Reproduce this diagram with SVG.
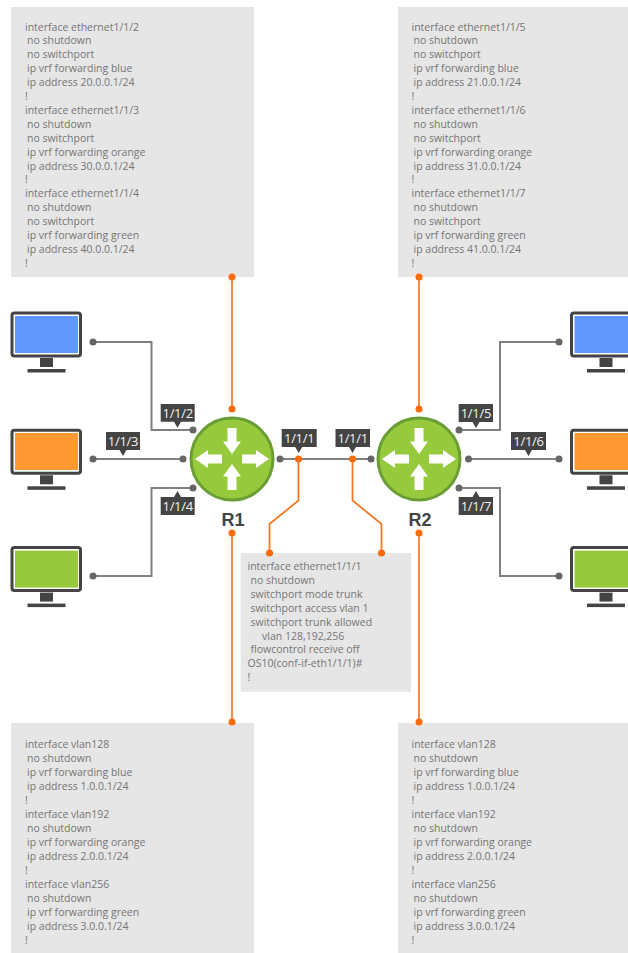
<svg xmlns="http://www.w3.org/2000/svg" xmlns:xlink="http://www.w3.org/1999/xlink" width="628" height="953" viewBox="0 0 628 953">
<style>
.panel{fill:#e6e6e6}
.cfg{font-family:"Open Sans",Lato,sans-serif;font-size:10.5px;fill:#757575}
.g{fill:none;stroke:#808080;stroke-width:2}
.o{fill:none;stroke:#f5761f;stroke-width:1.7}
.gd{fill:#666}
.od{fill:#f96a0a}
.tag{fill:#444}
.tagt{font-family:"Open Sans",Lato,sans-serif;font-size:13px;letter-spacing:-.3px;fill:#f2f2f2;text-anchor:middle}
.rn{font-family:"Liberation Sans",Arial,sans-serif;font-size:18px;font-weight:bold;fill:#444;text-anchor:middle}
.m{fill:#444}
.ar{fill:#fff}
.rb{fill:#97c93d;stroke:#6a9e35;stroke-width:3}
</style>
<defs>
<g id="mon">
<rect x="12" y="313" width="68.500" height="43" rx="2.500" fill="#fff" stroke="#444" stroke-width="3"/>
<rect x="40" y="358" width="13" height="9" class="m"/>
<rect x="27.500" y="369" width="38" height="3.500" class="m"/>
</g>
</defs>

<g id="panels">
<rect id="panel-r1-top" class="panel" x="11" y="7" width="243" height="270"/>
<rect id="panel-r2-top" class="panel" x="398" y="7" width="243" height="270"/>
<rect id="panel-r1-bottom" class="panel" x="11" y="723" width="243" height="230"/>
<rect id="panel-r2-bottom" class="panel" x="398" y="723" width="243" height="230"/>
<rect id="panel-center" class="panel" x="240.700" y="553" width="170.300" height="138.700"/>
</g>

<g id="connectors">
<path class="g" d="M93 342H151.500V430H193"/>
<path class="g" d="M93 459H183"/>
<path class="g" d="M93 576H151.500V488H193"/>
<path class="g" d="M280 459H371"/>
<path class="g" d="M459 430H500V342H559"/>
<path class="g" d="M468.500 459H559"/>
<path class="g" d="M459 488H500V576H559"/>
<path class="o" d="M232 277V409"/>
<path class="o" d="M419 277V409"/>
<path class="o" d="M232 533V722"/>
<path class="o" d="M419 533V722"/>
<path class="o" d="M298.500 459V500.500L269.500 524V553"/>
<path class="o" d="M352.500 459V500.500L381.500 524V553"/>
<g class="gd">
<circle cx="93" cy="342" r="3.500"/><circle cx="193" cy="430" r="3.500"/>
<circle cx="93" cy="459" r="3.500"/><circle cx="183" cy="459" r="3.500"/>
<circle cx="93" cy="576" r="3.500"/><circle cx="193" cy="488" r="3.500"/>
<circle cx="280" cy="459" r="3.500"/><circle cx="371" cy="459" r="3.500"/>
<circle cx="459" cy="430" r="3.500"/><circle cx="559" cy="342" r="3.500"/>
<circle cx="468.500" cy="459" r="3.500"/><circle cx="559" cy="459" r="3.500"/>
<circle cx="459" cy="488" r="3.500"/><circle cx="559" cy="576" r="3.500"/>
</g>
<g class="od">
<circle cx="232" cy="277" r="3.500"/><circle cx="232" cy="409" r="3.500"/>
<circle cx="419" cy="277" r="3.500"/><circle cx="419" cy="409" r="3.500"/>
<circle cx="232" cy="533" r="3.500"/><circle cx="232" cy="722" r="3.500"/>
<circle cx="419" cy="533" r="3.500"/><circle cx="419" cy="722" r="3.500"/>
<circle cx="298.500" cy="459" r="3.500"/><circle cx="352.500" cy="459" r="3.500"/>
<circle cx="269.500" cy="553" r="3.500"/><circle cx="381.500" cy="553" r="3.500"/>
</g>
</g>

<g id="pc-blue-l"><use xlink:href="#mon"/><rect x="15" y="316" width="63" height="37" fill="#5f97fb"/></g>
<g id="pc-orange-l"><use xlink:href="#mon" y="117.300"/><rect x="15" y="433" width="63" height="37" fill="#ff9933"/></g>
<g id="pc-green-l"><use xlink:href="#mon" y="234.600"/><rect x="15" y="550.600" width="63" height="37" fill="#97c93d"/></g>
<g id="pc-blue-r"><use xlink:href="#mon" x="559.500"/><rect x="574.500" y="316" width="63" height="37" fill="#5f97fb"/></g>
<g id="pc-orange-r"><use xlink:href="#mon" x="559.500" y="117.300"/><rect x="574.500" y="433" width="63" height="37" fill="#ff9933"/></g>
<g id="pc-green-r"><use xlink:href="#mon" x="559.500" y="234.600"/><rect x="574.500" y="550.600" width="63" height="37" fill="#97c93d"/></g>

<g id="r1"><circle class="rb" cx="232" cy="459" r="41"/>
<path class="ar" d="M227.500 428H236.500V441.500H241L232 454 223 441.500H227.500ZM227.500 490H236.500V476.500H241L232 464 223 476.500H227.500ZM195 459L208 450V454.500H222V463.500H208V468ZM269 459L256 450V454.500H242V463.500H256V468Z"/>
<text class="rn" x="233" y="526">R1</text></g>
<g id="r2"><circle class="rb" cx="419" cy="459" r="41"/>
<path class="ar" d="M414.500 428H423.500V441.500H428L419 454 410 441.500H414.500ZM414.500 490H423.500V476.500H428L419 464 410 476.500H414.500ZM382 459L395 450V454.500H409V463.500H395V468ZM456 459L443 450V454.500H429V463.500H443V468Z"/>
<text class="rn" x="420" y="526">R2</text></g>

<g id="tag-112"><path class="tag" d="M160.700 404H194.700V421.700H181L177.500 427.700 174 421.700H160.700Z"/><text class="tagt" x="177.700" y="417.700">1/1/2</text></g>
<g id="tag-113"><path class="tag" d="M106 432H140V450H126.500L123 456 119.500 450H106Z"/><text class="tagt" x="123" y="445.700">1/1/3</text></g>
<g id="tag-114"><path class="tag" d="M160.700 497H174L177.500 491 181 497H194.700V515H160.700Z"/><text class="tagt" x="177.700" y="510.700">1/1/4</text></g>
<g id="tag-111a"><path class="tag" d="M281.700 429H316.700V447H302.200L298.700 453 295.200 447H281.700Z"/><text class="tagt" x="299.200" y="442.700">1/1/1</text></g>
<g id="tag-111b"><path class="tag" d="M335.500 429H370V447H356L352.500 453 349 447H335.500Z"/><text class="tagt" x="352.700" y="442.700">1/1/1</text></g>
<g id="tag-115"><path class="tag" d="M458.700 404H493V422H479.500L476 428 472.500 422H458.700Z"/><text class="tagt" x="475.900" y="417.700">1/1/5</text></g>
<g id="tag-116"><path class="tag" d="M511 432H546V450H532L528.500 456 525 450H511Z"/><text class="tagt" x="528.500" y="445.700">1/1/6</text></g>
<g id="tag-117"><path class="tag" d="M458.700 497H472.500L476 491 479.500 497H493V515H458.700Z"/><text class="tagt" x="475.900" y="510.700">1/1/7</text></g>

<g id="cfg-r1-top" class="cfg">
<text x="25" y="30.500">interface ethernet1/1/2</text>
<text x="27" y="44.400">no shutdown</text>
<text x="27" y="58.300">no switchport</text>
<text x="27" y="72.200">ip vrf forwarding blue</text>
<text x="27" y="86.100">ip address 20.0.0.1/24</text>
<text x="25" y="100">!</text>
<text x="25" y="113.900">interface ethernet1/1/3</text>
<text x="27" y="127.800">no shutdown</text>
<text x="27" y="141.700">no switchport</text>
<text x="27" y="155.600">ip vrf forwarding orange</text>
<text x="27" y="169.500">ip address 30.0.0.1/24</text>
<text x="25" y="183.400">!</text>
<text x="25" y="197.300">interface ethernet1/1/4</text>
<text x="27" y="211.200">no shutdown</text>
<text x="27" y="225.100">no switchport</text>
<text x="27" y="239">ip vrf forwarding green</text>
<text x="27" y="252.900">ip address 40.0.0.1/24</text>
<text x="25" y="266.800">!</text>
</g>
<g id="cfg-r2-top" class="cfg">
<text x="411.500" y="30.500">interface ethernet1/1/5</text>
<text x="413.500" y="44.400">no shutdown</text>
<text x="413.500" y="58.300">no switchport</text>
<text x="413.500" y="72.200">ip vrf forwarding blue</text>
<text x="413.500" y="86.100">ip address 21.0.0.1/24</text>
<text x="411.500" y="100">!</text>
<text x="411.500" y="113.900">interface ethernet1/1/6</text>
<text x="413.500" y="127.800">no shutdown</text>
<text x="413.500" y="141.700">no switchport</text>
<text x="413.500" y="155.600">ip vrf forwarding orange</text>
<text x="413.500" y="169.500">ip address 31.0.0.1/24</text>
<text x="411.500" y="183.400">!</text>
<text x="411.500" y="197.300">interface ethernet1/1/7</text>
<text x="413.500" y="211.200">no shutdown</text>
<text x="413.500" y="225.100">no switchport</text>
<text x="413.500" y="239">ip vrf forwarding green</text>
<text x="413.500" y="252.900">ip address 41.0.0.1/24</text>
<text x="411.500" y="266.800">!</text>
</g>
<g id="cfg-center" class="cfg">
<text x="247.500" y="570">interface ethernet1/1/1</text>
<text x="250.500" y="583.900">no shutdown</text>
<text x="250.500" y="597.800">switchport mode trunk</text>
<text x="250.500" y="611.700">switchport access vlan 1</text>
<text x="250.500" y="625.600">switchport trunk allowed</text>
<text x="262" y="639.500">vlan 128,192,256</text>
<text x="250.500" y="653.400">flowcontrol receive off</text>
<text x="247.500" y="667.300">OS10(conf-if-eth1/1/1)#</text>
<text x="247.500" y="681.200">!</text>
</g>
<g id="cfg-r1-bottom" class="cfg">
<text x="25" y="747.700">interface vlan128</text>
<text x="27" y="761.700">no shutdown</text>
<text x="27" y="775.700">ip vrf forwarding blue</text>
<text x="27" y="789.700">ip address 1.0.0.1/24</text>
<text x="25" y="803.700">!</text>
<text x="25" y="817.700">interface vlan192</text>
<text x="27" y="831.700">no shutdown</text>
<text x="27" y="845.700">ip vrf forwarding orange</text>
<text x="27" y="859.700">ip address 2.0.0.1/24</text>
<text x="25" y="873.700">!</text>
<text x="25" y="887.700">interface vlan256</text>
<text x="27" y="901.700">no shutdown</text>
<text x="27" y="915.700">ip vrf forwarding green</text>
<text x="27" y="929.700">ip address 3.0.0.1/24</text>
<text x="25" y="943.700">!</text>
</g>
<g id="cfg-r2-bottom" class="cfg">
<text x="411.500" y="747.700">interface vlan128</text>
<text x="413.500" y="761.700">no shutdown</text>
<text x="413.500" y="775.700">ip vrf forwarding blue</text>
<text x="413.500" y="789.700">ip address 1.0.0.1/24</text>
<text x="411.500" y="803.700">!</text>
<text x="411.500" y="817.700">interface vlan192</text>
<text x="413.500" y="831.700">no shutdown</text>
<text x="413.500" y="845.700">ip vrf forwarding orange</text>
<text x="413.500" y="859.700">ip address 2.0.0.1/24</text>
<text x="411.500" y="873.700">!</text>
<text x="411.500" y="887.700">interface vlan256</text>
<text x="413.500" y="901.700">no shutdown</text>
<text x="413.500" y="915.700">ip vrf forwarding green</text>
<text x="413.500" y="929.700">ip address 3.0.0.1/24</text>
<text x="411.500" y="943.700">!</text>
</g>
</svg>
